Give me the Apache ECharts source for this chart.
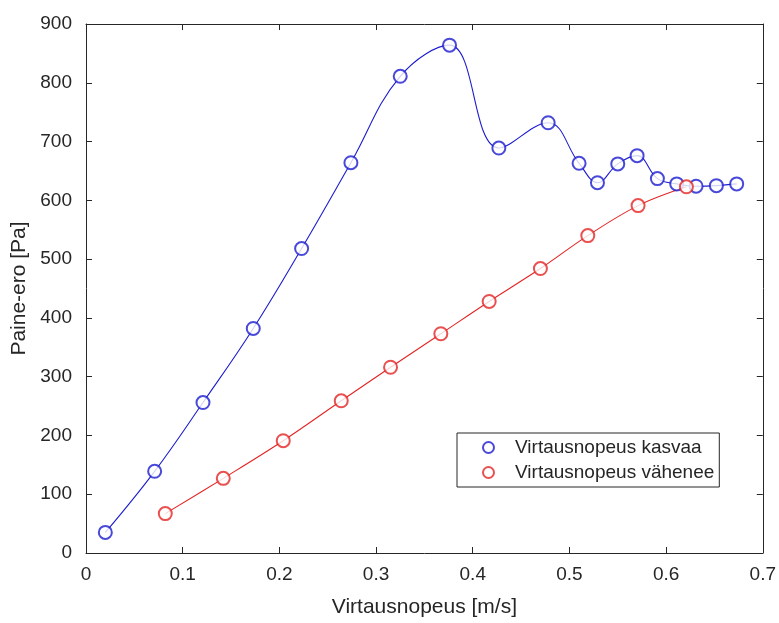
<!DOCTYPE html>
<html>
<head>
<meta charset="utf-8">
<script src="https://cdn.jsdelivr.net/npm/echarts@6/dist/echarts.min.js"></script>
<style>
  html, body { margin: 0; padding: 0; background: #fff; }
  #chart { width: 779px; height: 623px; }
</style>
</head>
<body>
<div id="chart"></div>
<script>
// Flow velocity (m/s) and pressure difference (Pa), increasing flow
const riseX = [0.020, 0.071, 0.121, 0.173, 0.223, 0.274, 0.325, 0.376, 0.427, 0.478,
               0.510, 0.529, 0.550, 0.570, 0.591, 0.611, 0.631, 0.652, 0.673];
const riseY = [35, 139, 256, 382, 518, 664, 811, 864, 689, 732,
               663, 630, 662, 676, 637, 628, 624, 625, 628];

// Decreasing flow
const fallX = [0.082, 0.142, 0.204, 0.264, 0.315, 0.367, 0.417, 0.470, 0.519, 0.571, 0.621];
const fallY = [67, 127, 191, 259, 316, 373, 428, 484, 540, 591, 623];

const xTicks = [0, 0.1, 0.2, 0.3, 0.4, 0.5, 0.6, 0.7];
const yTicks = [0, 100, 200, 300, 400, 500, 600, 700, 800, 900];

const riseName = 'Virtausnopeus kasvaa';
const fallName = 'Virtausnopeus vähenee';

const BLUE = '#1c1cd0';
const RED = '#e42424';
const INK = '#262626';
const FONT = '"Liberation Sans", Arial, sans-serif';

const pairs = (xs, ys) => xs.map((x, i) => [x, ys[i]]);

const axisCommon = {
  type: 'value',
  axisLine: { show: true, onZero: false, lineStyle: { color: INK, width: 1 } },
  axisTick: { show: true, inside: true, length: 6, lineStyle: { color: INK } },
  splitLine: { show: false }
};

const chart = echarts.init(document.getElementById('chart'), null, { renderer: 'canvas' });
chart.setOption({
  animation: false,
  backgroundColor: '#ffffff',
  textStyle: { fontFamily: FONT },
  grid: { left: 86, right: 16, top: 24, bottom: 66, containLabel: false },
  xAxis: [
    Object.assign({}, axisCommon, {
      position: 'bottom',
      min: xTicks[0], max: xTicks[xTicks.length - 1], interval: 0.1,
      name: 'Virtausnopeus [m/s]', nameLocation: 'middle', nameGap: 44,
      nameTextStyle: { color: INK, fontSize: 21, fontFamily: FONT },
      axisLabel: { color: INK, fontSize: 19, fontFamily: FONT, margin: 12,
        formatter: v => String(+v.toFixed(1)) }
    }),
    Object.assign({}, axisCommon, {
      position: 'top', min: xTicks[0], max: xTicks[xTicks.length - 1], interval: 0.1,
      axisLabel: { show: false }
    })
  ],
  yAxis: [
    Object.assign({}, axisCommon, {
      position: 'left',
      min: yTicks[0], max: yTicks[yTicks.length - 1], interval: 100,
      name: 'Paine-ero [Pa]', nameLocation: 'middle', nameGap: 54, nameRotate: 90,
      nameTextStyle: { color: INK, fontSize: 21, fontFamily: FONT },
      axisLabel: { color: INK, fontSize: 19, fontFamily: FONT, margin: 14 }
    }),
    Object.assign({}, axisCommon, {
      position: 'right', min: yTicks[0], max: yTicks[yTicks.length - 1], interval: 100,
      axisLabel: { show: false }
    })
  ],
  legend: {
    data: [
      { name: riseName, icon: 'emptyCircle' },
      { name: fallName, icon: 'emptyCircle' }
    ],
    orient: 'vertical',
    left: 457, top: 433,
    backgroundColor: '#ffffff',
    borderColor: INK, borderWidth: 1, borderRadius: 0,
    padding: [5, 5, 5, 25],
    itemWidth: 11, itemHeight: 11, itemGap: 6,
    textStyle: { color: INK, fontSize: 19, fontFamily: FONT, padding: [0, 0, 0, 16] },
    selectedMode: false
  },
  series: [
    {
      name: riseName + ' käyrä', type: 'line', smooth: 0.4, showSymbol: false,
      data: pairs(riseX, riseY), lineStyle: { color: BLUE, width: 1.1 },
      itemStyle: { color: BLUE }, silent: true, z: 2
    },
    {
      name: fallName + ' käyrä', type: 'line', smooth: 0.35, showSymbol: false,
      data: pairs(fallX, fallY), lineStyle: { color: RED, width: 1.1 },
      itemStyle: { color: RED }, silent: true, z: 2
    },
    {
      name: riseName, type: 'scatter', symbol: 'emptyCircle', symbolSize: 13,
      data: pairs(riseX, riseY),
      itemStyle: { color: BLUE, borderColor: BLUE, borderWidth: 1 }, z: 3
    },
    {
      name: fallName, type: 'scatter', symbol: 'emptyCircle', symbolSize: 13,
      data: pairs(fallX, fallY),
      itemStyle: { color: RED, borderColor: RED, borderWidth: 1 }, z: 3
    }
  ]
});
</script>
</body>
</html>
